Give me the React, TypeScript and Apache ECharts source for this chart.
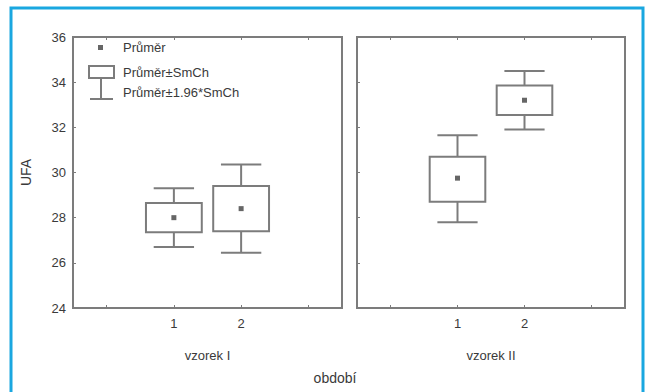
import React, { useEffect, useRef } from "react";
import * as echarts from "echarts";

const categories = ["", "1", "2", ""];
const groupNames = ["vzorek I", "vzorek II"];
const yTicks = { min: 24, max: 36, interval: 2 };

// per group: category index 1 and 2
const meansI = [28.0, 28.4];
const seLowI = [27.35, 27.4];
const seHighI = [28.65, 29.4];
const ciLowI = [26.7, 26.45];
const ciHighI = [29.3, 30.35];

const meansII = [29.75, 33.2];
const seLowII = [28.7, 32.55];
const seHighII = [30.7, 33.85];
const ciLowII = [27.8, 31.9];
const ciHighII = [31.65, 34.5];

const legendLabels = ["Průměr", "Průměr±SmCh", "Průměr±1.96*SmCh"];
const yName = "UFA";
const xTitle = "období";

const STROKE = "#7c7c7c";
const TEXT = "#3a3a3a";
const FONT = "Liberation Sans";

function buildData(m: number[], sl: number[], sh: number[], cl: number[], ch: number[]) {
  return m.map((v, i) => [i + 1, v, sl[i], sh[i], cl[i], ch[i]]);
}

function renderBox(params: any, api: any) {
  const x = api.value(0);
  const c = api.coord([x, api.value(1)]);
  const seLo = api.coord([x, api.value(2)]);
  const seHi = api.coord([x, api.value(3)]);
  const ciLo = api.coord([x, api.value(4)]);
  const ciHi = api.coord([x, api.value(5)]);
  const band = api.size([1, 0])[0];
  const bw = band * 0.83;
  const cw = band * 0.6;
  const st = { stroke: STROKE, lineWidth: 2, fill: "none" };
  return {
    type: "group",
    children: [
      { type: "line", shape: { x1: c[0], y1: ciHi[1], x2: c[0], y2: seHi[1] }, style: st },
      { type: "line", shape: { x1: c[0], y1: seLo[1], x2: c[0], y2: ciLo[1] }, style: st },
      { type: "line", shape: { x1: c[0] - cw / 2, y1: ciHi[1], x2: c[0] + cw / 2, y2: ciHi[1] }, style: st },
      { type: "line", shape: { x1: c[0] - cw / 2, y1: ciLo[1], x2: c[0] + cw / 2, y2: ciLo[1] }, style: st },
      {
        type: "rect",
        shape: { x: c[0] - bw / 2, y: seHi[1], width: bw, height: seLo[1] - seHi[1] },
        style: { stroke: STROKE, lineWidth: 2, fill: "#fff" },
      },
      { type: "rect", shape: { x: c[0] - 2.5, y: c[1] - 2.5, width: 5, height: 5 }, style: { fill: "#666" } },
    ],
  };
}

export default function App() {
  const ref = useRef<HTMLDivElement>(null);
  useEffect(() => {
    if (!ref.current) return;
    const chart = echarts.init(ref.current, undefined, { renderer: "svg" });
    const grids = [
      { left: 73, top: 37, width: 269, height: 271 },
      { left: 357, top: 37, width: 268, height: 271 },
    ].map((g) => ({ ...g, show: true, borderColor: STROKE, borderWidth: 2, backgroundColor: "#fff" }));

    const xAxes: any[] = [];
    const yAxes: any[] = [];
    [0, 1].forEach((gi) => {
      xAxes.push({
        type: "category",
        gridIndex: gi,
        data: categories,
        position: "bottom",
        axisLine: { show: false },
        axisTick: { show: true, inside: true, alignWithLabel: true, length: 3, lineStyle: { color: STROKE } },
        axisLabel: { color: TEXT, fontSize: 13, fontFamily: FONT, margin: 9 },
        name: groupNames[gi],
        nameLocation: "middle",
        nameGap: 41,
        nameTextStyle: { color: TEXT, fontSize: 13, fontFamily: FONT },
        splitLine: { show: false },
      });
      xAxes.push({
        type: "category",
        gridIndex: gi,
        data: categories,
        position: "top",
        axisLine: { show: false },
        axisTick: { show: true, inside: true, alignWithLabel: true, length: 3, lineStyle: { color: STROKE } },
        axisLabel: { show: false },
        splitLine: { show: false },
      });
      yAxes.push({
        type: "value",
        gridIndex: gi,
        min: yTicks.min,
        max: yTicks.max,
        interval: yTicks.interval,
        axisLine: { show: false },
        axisTick: { show: true, inside: true, length: 3, lineStyle: { color: STROKE } },
        axisLabel: { show: gi === 0, color: TEXT, fontSize: 13, fontFamily: FONT, margin: 7 },
        splitLine: { show: false },
        name: gi === 0 ? yName : "",
        nameLocation: "middle",
        nameGap: 40,
        nameTextStyle: { color: TEXT, fontSize: 14, fontFamily: FONT },
      });
    });

    const option: any = {
      animation: false,
      backgroundColor: "#fff",
      grid: grids,
      xAxis: xAxes,
      yAxis: yAxes,
      series: [
        {
          type: "custom",
          xAxisIndex: 0,
          yAxisIndex: 0,
          renderItem: renderBox,
          encode: { x: 0, y: [1, 2, 3, 4, 5] },
          data: buildData(meansI, seLowI, seHighI, ciLowI, ciHighI),
        },
        {
          type: "custom",
          xAxisIndex: 2,
          yAxisIndex: 1,
          renderItem: renderBox,
          encode: { x: 0, y: [1, 2, 3, 4, 5] },
          data: buildData(meansII, seLowII, seHighII, ciLowII, ciHighII),
        },
      ],
      graphic: [
        {
          type: "rect",
          shape: { x: 11, y: 8, width: 632, height: 420 },
          style: { fill: "none", stroke: "#1aa7e0", lineWidth: 3 },
          z: 100,
        },
        { type: "rect", shape: { x: 98, y: 45, width: 5, height: 5 }, style: { fill: "#666" }, z: 100 },
        {
          type: "rect",
          shape: { x: 89, y: 66, width: 25, height: 12 },
          style: { fill: "#fff", stroke: STROKE, lineWidth: 2 },
          z: 100,
        },
        { type: "line", shape: { x1: 101, y1: 78, x2: 101, y2: 99 }, style: { stroke: STROKE, lineWidth: 2 }, z: 100 },
        { type: "line", shape: { x1: 90, y1: 99, x2: 113, y2: 99 }, style: { stroke: STROKE, lineWidth: 2 }, z: 100 },
        ...legendLabels.map((t, i) => ({
          type: "text",
          x: 123,
          y: [47, 72, 92][i],
          z: 100,
          style: { text: t, fill: TEXT, fontSize: 13, fontFamily: FONT, verticalAlign: "middle", align: "left" },
        })),
        {
          type: "text",
          x: 335,
          y: 378,
          z: 100,
          style: { text: xTitle, fill: TEXT, fontSize: 14, fontFamily: FONT, verticalAlign: "middle", align: "center" },
        },
      ],
    };
    chart.setOption(option);
    return () => chart.dispose();
  }, []);
  return <div ref={ref} style={{ position: "fixed", left: 0, top: 0, width: 648, height: 392 }} />;
}
